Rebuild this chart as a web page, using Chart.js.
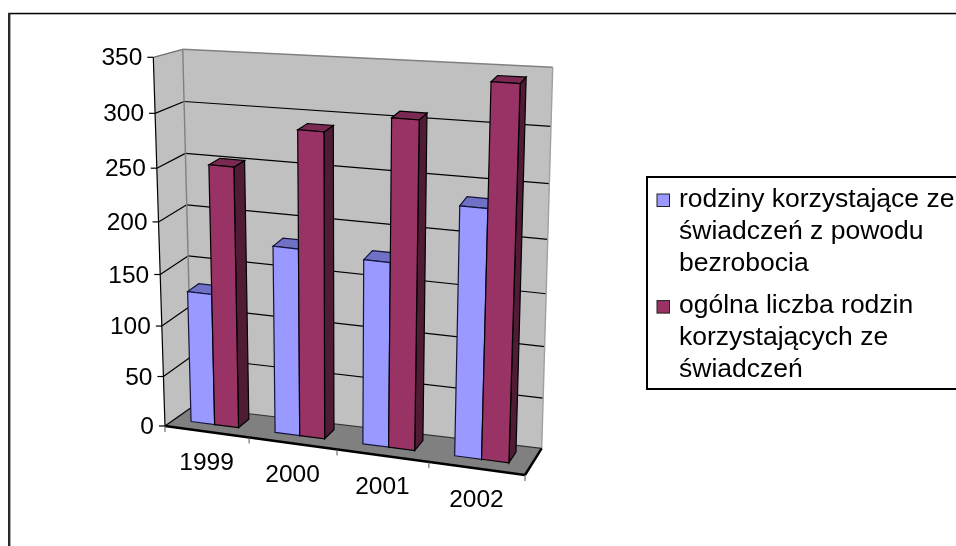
<!DOCTYPE html>
<html><head><meta charset="utf-8">
<style>html,body{margin:0;padding:0;background:#fff}canvas{display:block}</style>
<script src="https://cdn.jsdelivr.net/npm/chart.js@4"></script>
</head><body><canvas id="c" width="956" height="546"></canvas>
<script>
const categories = ['1999','2000','2001','2002'];
const unemployedFamilies = [129,182,179,237];
const allFamilies = [252,291,308,344];
const yTicks = {min:0,max:350,step:50};
const legendLines = [
  ['rodziny korzystające ze','świadczeń z powodu','bezrobocia'],
  ['ogólna liczba rodzin','korzystających ze','świadczeń']
];
const FONT='"Liberation Sans", Arial, sans-serif';
const corner={
 '000':[165,426],'100':[525,475],'001':[192,407],'101':[541.7,448.3],
 '010':[153.3,57.3],'110':[539,83],'011':[182.7,49.3],'111':[552.7,67.3]};
const warpA=-0.085, W0=0.35, W1=0.76, groupShift=-0.003;
function P(u,v,w){
  const U=u*(1+warpA)/(1+warpA*u);
  const b=-0.07+0.045*w-0.065*U;
  const V=v*(1+b)/(1+b*v);
  let x=0,y=0;
  for(const a of [0,1])for(const e of [0,1])for(const c of [0,1]){
    const k=(a?U:1-U)*(e?V:1-V)*(c?w:1-w),p=corner[''+a+e+c];
    x+=k*p[0];y+=k*p[1];
  }
  return [x,y];
}
function poly(ctx,pts,fill,stroke,lw){
  ctx.beginPath();pts.forEach((p,i)=>i?ctx.lineTo(p[0],p[1]):ctx.moveTo(p[0],p[1]));ctx.closePath();
  if(fill){ctx.fillStyle=fill;ctx.fill();}
  if(stroke){ctx.strokeStyle=stroke;ctx.lineWidth=lw||1;ctx.stroke();}
}
function line(ctx,a,b,col,lw){ctx.beginPath();ctx.moveTo(a[0],a[1]);ctx.lineTo(b[0],b[1]);ctx.strokeStyle=col;ctx.lineWidth=lw||1;ctx.stroke();}
function text(ctx,s,x,y,size,align){
  ctx.save();ctx.font=size+'px '+FONT;ctx.fillStyle='#000';ctx.textBaseline='alphabetic';ctx.textAlign=align;
  ctx.fillText(s,x,y);ctx.restore();
}
const shades=[{front:'#9999FF',top:'#7070C4',side:'#4D4D80',edge:'#14143a'},{front:'#993366',top:'#7A2952',side:'#4F1B35',edge:'#000'}];
const scene3d={id:'scene3d',
 beforeDatasetsDraw(chart){
  const ctx=chart.ctx,ca=chart.chartArea,ys=chart.scales.y,xs=chart.scales.x;
  const vOf=val=>(ys.bottom-ys.getPixelForValue(val))/(ys.bottom-ys.top);
  const uOf=px=>(px-ca.left)/ca.width;
  ctx.fillStyle='#c8c8c8';ctx.fillRect(8,12,948,1);
  ctx.fillStyle='#000';ctx.fillRect(8,13,948,1.3);
  ctx.fillStyle='#2a2a2a';ctx.fillRect(8,13,2.4,533);
  poly(ctx,[P(0,0,0),P(0,1,0),P(0,1,1),P(0,0,1)],'#C0C0C0');
  poly(ctx,[P(0,0,1),P(0,1,1),P(1,1,1),P(1,0,1)],'#C0C0C0');
  poly(ctx,[P(0,0,0),P(1,0,0),P(1,0,1),P(0,0,1)],'#808080');
  ys.ticks.forEach(t=>{
    const v=vOf(t.value);
    if(v>0&&v<1){
      line(ctx,P(0,v,0),P(0,v,1),'#000',1.2);
      line(ctx,P(0,v,1),P(1,v,1),'#000',1.2);
    }
    const a=P(0,v,0);
    line(ctx,a,[a[0]-6,a[1]],'#000',1.2);
    text(ctx,String(t.value),a[0]-11,a[1]+8,24.5,'right');
  });
  line(ctx,P(0,1,0),P(0,1,1),'#707070',1.2);
  line(ctx,P(0,1,1),P(1,1,1),'#808080',1.4);
  line(ctx,P(0,0,1),P(0,1,1),'#808080',1.4);
  line(ctx,P(1,0,1),P(1,1,1),'#a0a0a0',1.4);
  line(ctx,P(0,0,1),P(1,0,1),'#333',1.2);
  line(ctx,P(0,0,0),P(0,1,0),'#000',1.2);
  line(ctx,P(0,0,0),P(0,0,1),'#000',1.2);
  const m0=chart.getDatasetMeta(0).data,m1=chart.getDatasetMeta(1).data;
  categories.forEach((c,i)=>{
    [m0[i],m1[i]].forEach((el,k)=>{
      const s=shades[k],uL=uOf(el.x-el.width/2)+groupShift,uR=uOf(el.x+el.width/2)+groupShift;
      const v=(ys.bottom-el.y)/(ys.bottom-ys.top);
      poly(ctx,[P(uR,0,W0),P(uR,v,W0),P(uR,v,W1),P(uR,0,W1)],s.side,s.edge,1.2);
      poly(ctx,[P(uL,v,W0),P(uR,v,W0),P(uR,v,W1),P(uL,v,W1)],s.top,s.edge,1.2);
      poly(ctx,[P(uL,0,W0),P(uR,0,W0),P(uR,v,W0),P(uL,v,W0)],s.front,s.edge,1.2);
    });
  });
  line(ctx,P(0,0,0),P(1,0,0),'#000',2.4);
  line(ctx,P(1,0,0),P(1,0,1),'#000',2.4);
  for(let i=0;i<=categories.length;i++){
    const a=P(i/categories.length,0,0);
    line(ctx,[a[0],a[1]],[a[0],a[1]+6],'#555');
  }
  categories.forEach((c,i)=>{
    const a=P(uOf(xs.getPixelForValue(i)),0,0);
    text(ctx,c,a[0],a[1]+38.5,24.5,'center');
  });
  ctx.fillStyle='#fff';ctx.fillRect(646,177,311,212);
  ctx.strokeStyle='#000';ctx.lineWidth=2;
  ctx.beginPath();ctx.moveTo(960,177);ctx.lineTo(647,177);ctx.lineTo(647,389);ctx.lineTo(960,389);ctx.stroke();
  const baselines=[[206.7,239.3,271],[313.3,345,376.7]];
  legendLines.forEach((ls,k)=>{
    const y0=baselines[k][0];
    ctx.fillStyle=chart.data.datasets[k].backgroundColor;ctx.fillRect(657,y0-12.7,12.5,12.5);
    ctx.strokeStyle='#222';ctx.lineWidth=1;ctx.strokeRect(657,y0-12.7,12.5,12.5);
    ls.forEach((s,j)=>text(ctx,s,679,baselines[k][j],26.5,'left'));
  });
  return false;
 }
};
new Chart(document.getElementById('c'),{
  type:'bar',
  data:{labels:categories,datasets:[
    {label:legendLines[0].join(' '),data:unemployedFamilies,backgroundColor:'#9999FF'},
    {label:legendLines[1].join(' '),data:allFamilies,backgroundColor:'#993366'}
  ]},
  options:{
    responsive:false,animation:false,
    layout:{padding:{left:165,right:431,top:57,bottom:71}},
    categoryPercentage:0.57,barPercentage:1,
    plugins:{legend:{display:false},tooltip:{enabled:false},title:{display:false}},
    scales:{
      x:{display:false,grid:{display:false}},
      y:{display:false,min:yTicks.min,max:yTicks.max,ticks:{stepSize:yTicks.step},grid:{display:false}}
    }
  },
  plugins:[scene3d]
});
</script></body></html>
